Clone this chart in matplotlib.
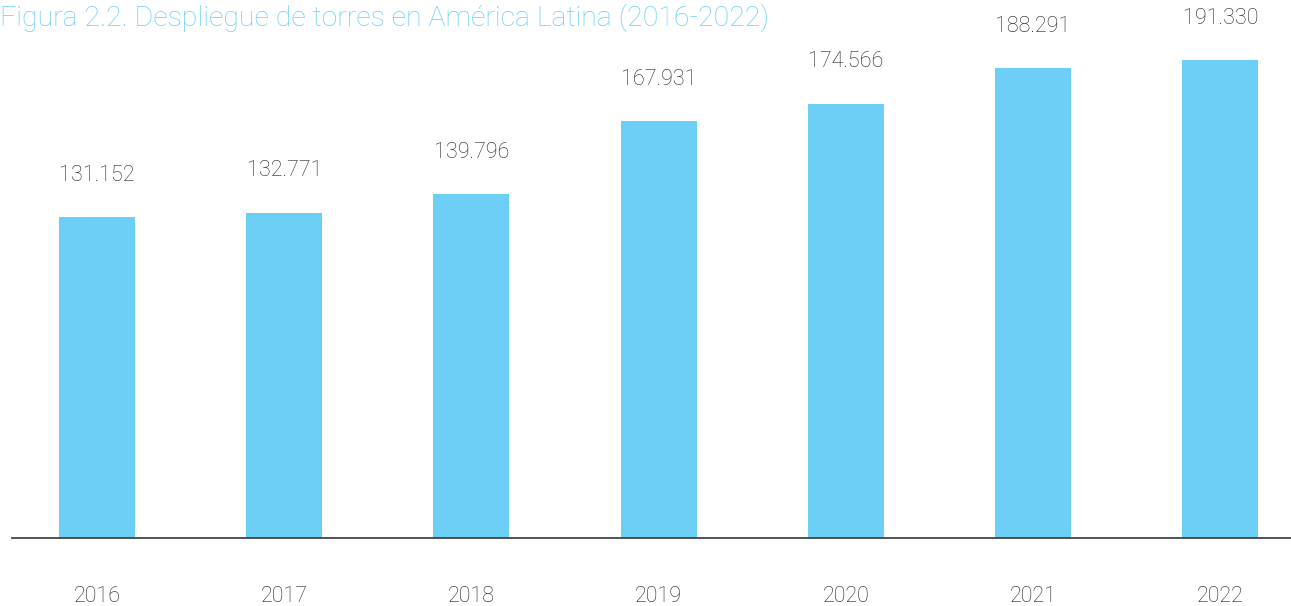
import matplotlib
matplotlib.use("Agg")
import matplotlib.pyplot as plt

years = ["2016", "2017", "2018", "2019", "2020", "2021", "2022"]
towers = [131152, 132771, 139796, 167931, 174566, 188291, 191330]
value_labels = ["131.152", "132.771", "139.796", "167.931", "174.566", "188.291", "191.330"]
title = "Figura 2.2. Despliegue de torres en América Latina (2016-2022)"

W, H = 1291, 606
fig = plt.figure(figsize=(W / 100, H / 100), dpi=100)
ax = fig.add_axes([12 / W, (H - 538) / H, 1 - 12 / W, 538 / H])

bar_color = "#6dcff6"
text_color = "#222222"
x = list(range(len(years)))
ax.bar(x, towers, width=0.406, color=bar_color, zorder=2)
ax.set_xlim(-0.454, 6.378)
ax.set_ylim(8000, 214300)

for xi, v, lab in zip(x, towers, value_labels):
    ax.annotate(lab, (xi, v), xytext=(0, 30), textcoords="offset points",
                ha="center", va="center", fontsize=15.5, color=text_color,
                family="Roboto", fontweight="light")

for s in ["top", "right", "left"]:
    ax.spines[s].set_visible(False)
ax.spines["bottom"].set_color("#444444")
ax.spines["bottom"].set_linewidth(1.3)
ax.set_yticks([])
ax.set_xticks(x)
ax.set_xticklabels(years, fontsize=15.5, color=text_color, family="Roboto", fontweight="light")
ax.tick_params(axis="x", length=0, pad=34.5)

fig.text(0, 1 - 3 / H, title, ha="left", va="top", fontsize=20.5, color=bar_color,
         family="Roboto", fontweight="light")

fig.savefig("out.png", dpi=100)
